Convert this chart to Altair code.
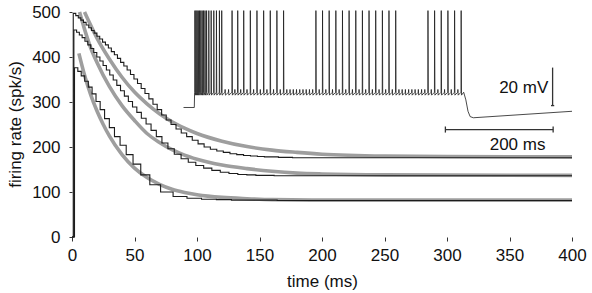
import altair as alt
import numpy as np
import pandas as pd

# ---------------- data ----------------
# instantaneous firing rate at successive spikes (spk/s), three current steps
rate_a = [497, 492, 487, 482, 477, 471, 465, 459, 453, 446, 440, 433, 427, 420, 412,
          405, 397, 388, 380, 371, 361, 351, 341, 330, 319, 307, 295, 283, 271, 260,
          250, 240, 231, 223, 215, 207, 200, 195, 191, 188, 185, 183, 181, 180, 179,
          178, 178, 177, 177, 176]
rate_b = [460, 455, 449, 443, 435, 427, 419, 410, 400, 391, 381, 371, 360, 349, 337,
          325, 313, 301, 289, 277, 264, 251, 237, 223, 209, 196, 184, 174, 166, 159,
          153, 148, 144, 141, 139, 138, 137, 137, 136, 136]
rate_c = [376, 368, 358, 346, 333, 318, 301, 283, 263, 243, 223, 204, 183, 162, 138,
          116, 100, 90, 86, 84, 83, 82, 82, 82, 81]
first_spike = {"a": 1.0, "b": 1.5, "c": 2.0}   # ms
t_end = 400

# exponential fits (gray)
fit_a_t = [10, 20, 30, 40, 50, 60, 70, 80, 90, 100, 120, 140, 160, 180, 200, 250, 300, 400]
fit_a_r = [500, 442, 395, 355, 322, 296, 274, 256, 242, 230, 213, 201, 193, 188, 184, 180, 179, 178]
fit_b_t = [6, 10, 15, 20, 30, 40, 50, 60, 70, 80, 90, 100, 120, 140, 160, 180, 200, 250, 400]
fit_b_r = [500, 462, 420, 388, 334, 292, 259, 230, 210, 194, 182, 173, 160, 152, 146, 142, 140, 138, 137]
fit_c_t = [5.5, 10, 15, 20, 25, 30, 40, 50, 60, 70, 80, 90, 100, 120, 140, 160, 200, 400]
fit_c_r = [408, 360, 316, 280, 250, 224, 183, 153, 132, 117, 106, 99, 94, 88, 85, 83, 82, 82]

# inset voltage trace (ms from step onset, mV)
spike_full = [0.8, 2.8, 4.9, 7.1, 9.4, 11.8, 14.3, 16.9, 19.6, 22.5, 26.6, 31.0, 35.9,
              40.8, 46.3, 50.6, 69.8, 80.3, 91.4, 103.7, 116.0, 128.4, 140.7, 153.0,
              165.4, 225.4, 237.7, 250.0, 262.4, 274.7, 287.0, 299.4, 311.7, 324.0,
              336.4, 348.8, 361.0, 373.5, 433.4, 445.7, 458.0, 470.4, 482.8, 495.0]
spike_small = [56.9, 63.3, 75.0, 85.8, 97.5, 109.8, 122.2, 134.5, 146.8, 159.2, 171.4,
               177.4, 183.4, 189.4, 195.4, 201.4, 207.4, 213.4, 219.4, 231.5, 243.8,
               256.2, 268.5, 280.8, 293.2, 305.5, 317.8, 330.2, 342.6, 354.9, 367.2,
               379.5, 385.5, 391.5, 397.5, 403.5, 409.5, 415.5, 421.5, 427.5, 439.5,
               451.8, 464.2, 476.6, 488.9]
v_rest, v_thr, v_peak, v_small, v_ahp = -70, -62, -19, -60.5, -63.5
pre_t, pre_v = [-20, 0, 0.5], [-70, -70, -63]
post_t = [500, 504, 508, 512, 518, 701]
post_v = [-62, -66, -72, -74.8, -75.4, -72]

# scale bars: 20 mV and 200 ms
bar_v_t, bar_v_lo, bar_v_hi = 665, -69, -49
bar_h_t0, bar_h_t1, bar_h_v = 466, 666, -81.6

# ---------------- tables ----------------
rows = []
for name, rates in (("a", rate_a), ("b", rate_b), ("c", rate_c)):
    r = np.array(rates, dtype=float)
    times = first_spike[name] + np.concatenate([[0.0], np.cumsum(1000.0 / r[:-1])])
    rows.append({"trace": name, "t": 0.0, "rate": 0.0, "i": 0})
    for k, (tt, rr) in enumerate(zip(times, rates)):
        rows.append({"trace": name, "t": float(tt), "rate": rr, "i": k + 1})
    rows.append({"trace": name, "t": t_end, "rate": rates[-1], "i": len(rates) + 1})
steps = pd.DataFrame(rows)

fits = pd.concat([
    pd.DataFrame({"trace": n, "t": tt, "rate": rr})
    for n, tt, rr in (("a", fit_a_t, fit_a_r), ("b", fit_b_t, fit_b_r), ("c", fit_c_t, fit_c_r))
])

events = sorted([(t, v_peak) for t in spike_full] + [(t, v_small) for t in spike_small])
vt, vv = list(pre_t), list(pre_v)
for t, top in events:
    vt += [t, t + 0.3, t + 0.9]
    vv += [v_thr, top, v_ahp]
vt += post_t
vv += post_v
trace = pd.DataFrame({"ti": vt, "v": vv, "i": range(len(vt))})

bars = pd.DataFrame({
    "ti": [bar_v_t, bar_v_t - 3, bar_h_t0, bar_h_t0, bar_h_t1],
    "ti2": [bar_v_t, bar_v_t + 3, bar_h_t1, bar_h_t0, bar_h_t1],
    "v": [bar_v_lo, bar_v_lo, bar_h_v, bar_h_v - 1.6, bar_h_v - 1.6],
    "v2": [bar_v_hi, bar_v_lo, bar_h_v, bar_h_v + 1.6, bar_h_v + 1.6],
})
labels = pd.DataFrame({"ti": [657, 600], "v": [-59.5, -89.5], "label": ["20 mV", "200 ms"],
                       "align": ["right", "center"]})

# ---------------- chart ----------------
xs = alt.Scale(domain=[0, 400], nice=False)
ys = alt.Scale(domain=[0, 500], nice=False)
x_axis = alt.Axis(values=list(range(0, 401, 50)), tickSize=4, labelPadding=6,
                  labelFlush=False, titleY=36)
y_axis = alt.Axis(values=list(range(0, 501, 100)), tickSize=3, labelPadding=9,
                  titleX=-48, titleY=112)

gray = alt.Chart(fits).mark_line(interpolate="monotone", color="#9e9e9e", strokeWidth=3.6).encode(
    x=alt.X("t:Q", scale=xs, axis=x_axis, title="time (ms)"),
    y=alt.Y("rate:Q", scale=ys, axis=y_axis, title="firing rate (spk/s)"),
    detail="trace:N",
)
black = alt.Chart(steps).mark_line(interpolate="step-after", color="#1c1c1c", strokeWidth=1.1).encode(
    x=alt.X("t:Q", scale=xs, axis=x_axis, title="time (ms)"),
    y=alt.Y("rate:Q", scale=ys, axis=y_axis, title="firing rate (spk/s)"),
    detail="trace:N",
    order="i:Q",
)
main = alt.layer(gray, black)

xi = alt.Scale(domain=[-227, 701], nice=False, zero=False)
yi = alt.Scale(domain=[-138.16, -19.74], nice=False, zero=False)
vtrace = alt.Chart(trace).mark_line(color="#1c1c1c", strokeWidth=0.8).encode(
    x=alt.X("ti:Q", scale=xi, axis=None),
    y=alt.Y("v:Q", scale=yi, axis=None),
    order="i:Q",
)
vbars = alt.Chart(bars).mark_rule(color="#333333", strokeWidth=1.3).encode(
    x=alt.X("ti:Q", scale=xi, axis=None), x2="ti2:Q",
    y=alt.Y("v:Q", scale=yi, axis=None), y2="v2:Q",
)
t1 = alt.Chart(labels[labels["align"] == "right"]).mark_text(
    align="right", baseline="middle", fontSize=17, font="Liberation Sans", color="#111111").encode(
    x=alt.X("ti:Q", scale=xi, axis=None), y=alt.Y("v:Q", scale=yi, axis=None), text="label:N")
t2 = alt.Chart(labels[labels["align"] == "center"]).mark_text(
    align="center", baseline="middle", fontSize=17, font="Liberation Sans", color="#111111").encode(
    x=alt.X("ti:Q", scale=xi, axis=None), y=alt.Y("v:Q", scale=yi, axis=None), text="label:N")
inset = alt.layer(vtrace, vbars, t1, t2)

chart = alt.layer(main, inset).resolve_scale(x="independent", y="independent").properties(
    width=500, height=225,
    padding={"left": 72, "top": 12, "right": 20, "bottom": 56},
    autosize=alt.AutoSizeParams(type="none"),
    background="white",
).configure_view(stroke=None).configure_axis(
    labelFont="Liberation Sans", titleFont="Liberation Sans",
    labelFontSize=17, titleFontSize=17, titleFontWeight="normal",
    labelColor="#111111", titleColor="#111111", tickColor="#333333",
    domain=False, grid=False,
)

chart.save("out.html", embed_options={"renderer": "svg", "actions": False})
